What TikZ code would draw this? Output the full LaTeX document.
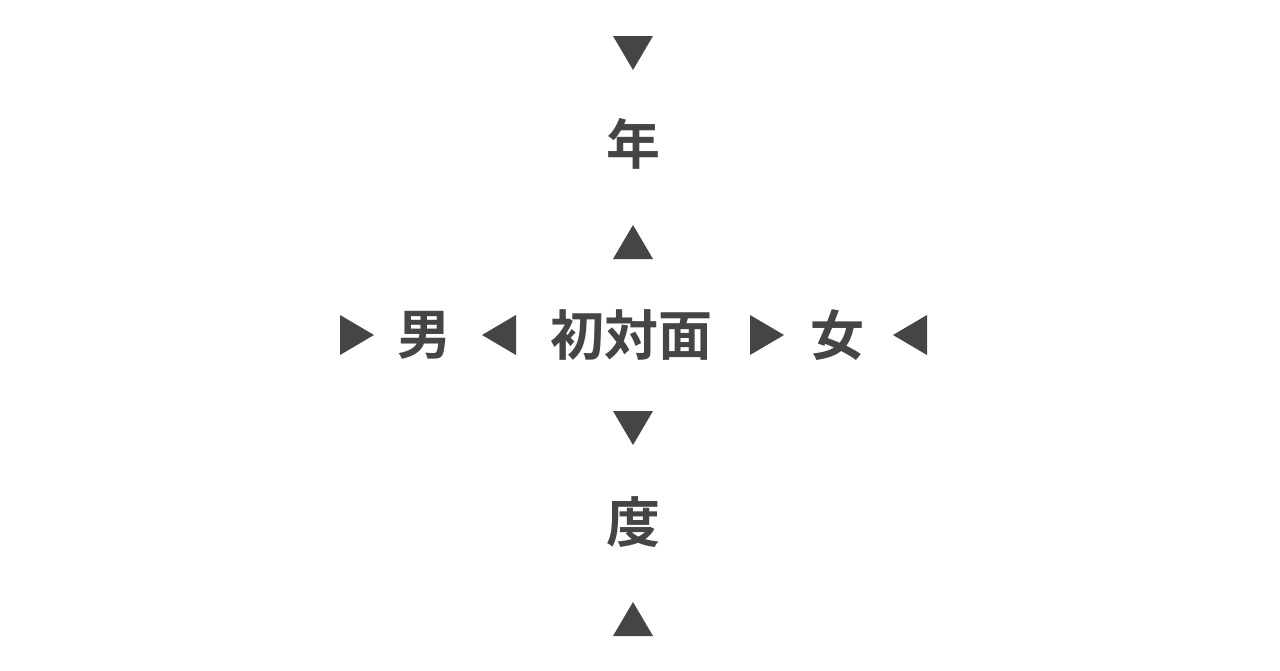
\documentclass[tikz,border=0pt]{standalone}
\usepackage{fontspec}
\newfontfamily\cjk{Noto Sans CJK JP Bold}
\definecolor{ink}{HTML}{454545}
\begin{document}
\begin{tikzpicture}[x=1pt,y=-1pt,
  lbl/.style={text=ink,font=\cjk\fontsize{54}{58}\selectfont,inner sep=0pt,anchor=center},
  tri/.style={fill=ink},
  pics/tdown/.style={code={\fill[tri] (-20,-17) -- (20,-17) -- (0,17) -- cycle;}},
  pics/tup/.style={code={\fill[tri] (-20,17) -- (20,17) -- (0,-17) -- cycle;}},
  pics/tright/.style={code={\fill[tri] (-17,-20) -- (-17,20) -- (17,0) -- cycle;}},
  pics/tleft/.style={code={\fill[tri] (17,-20) -- (17,20) -- (-17,0) -- cycle;}}]
\fill[white] (0,0) rectangle (1280,670);
\useasboundingbox (0,0) rectangle (1280,670);
% vertical column
\pic at (633,53) {tdown};
\node[lbl] (nen) at (633,144) {年};
\pic at (633,242) {tup};
\pic at (633,428) {tdown};
\node[lbl] (do) at (633,522) {度};
\pic at (633,619) {tup};
% middle row
\pic at (357,335) {tright};
\node[lbl] (otoko) at (424,335) {男};
\pic at (499,335) {tleft};
\node[lbl] (shotaimen) at (631,335) {初対面};
\pic at (767,335) {tright};
\node[lbl] (onna) at (837,335) {女};
\pic at (910,335) {tleft};
\end{tikzpicture}
\end{document}
